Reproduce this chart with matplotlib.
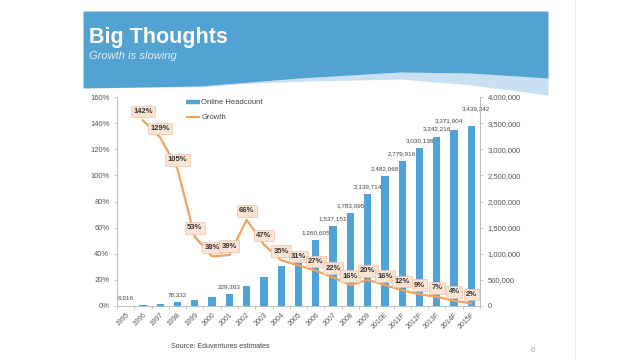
import matplotlib
matplotlib.use('Agg')
import matplotlib.pyplot as plt
import numpy as np
from matplotlib.lines import Line2D
from matplotlib.ticker import FuncFormatter, MultipleLocator

plt.rcParams['font.family'] = ['Liberation Sans', 'DejaVu Sans']

# ---------------- data ----------------
years = ['1995', '1996', '1997', '1998', '1999', '2000', '2001', '2002', '2003',
         '2004', '2005', '2006', '2007', '2008', '2009', '2010E', '2011F',
         '2012F', '2013F', '2014F', '2015F']
headcount = [6916, 17000, 38000, 78332, 120000, 165000, 229363, 385000, 560000,
             760000, 990000, 1260605, 1537151, 1783095, 2139714, 2482068,
             2779916, 3030138, 3242216, 3371904, 3439342]
headcount_labelled = ['1995', '1998', '2001', '2006', '2007', '2008', '2009',
                      '2010E', '2011F', '2012F', '2013F', '2014F', '2015F']
growth_years = years[1:]
growth = [142, 129, 105, 53, 38, 39, 66, 47, 35, 31, 27, 22, 16, 20, 16, 12,
          9, 7, 4, 2]
left_ticks = [0, 20, 40, 60, 80, 100, 120, 140, 160]
right_ticks = [0, 500000, 1000000, 1500000, 2000000, 2500000, 3000000,
               3500000, 4000000]

title = 'Big Thoughts'
subtitle = 'Growth is slowing'
source = 'Source: Eduventures estimates'
page = '6'

BLUE = '#4FA3D6'
ORANGE = '#F2A15E'
W, H = 638, 359

fig = plt.figure(figsize=(W / 100, H / 100), dpi=100)
fig.patch.set_facecolor('white')

# ---------------- slide decoration (pixel coordinates) ----------------
bg = fig.add_axes([0, 0, 1, 1], zorder=-10)
bg.set_xlim(0, W)
bg.set_ylim(H, 0)
bg.axis('off')
xs = np.linspace(83, 548, 200)
kx = [83, 200, 300, 400, 470, 548]
ky = [88, 86, 78, 72, 73, 78]
yb = np.interp(xs, kx, ky)
thick = np.interp(xs, [83, 240, 400, 548], [0, 1, 7, 17])
yl = yb + thick
bg.fill_between(xs, yb, yl, color='#C9E0F2', lw=0)
bg.fill_between(xs, 11, yb, color='#52A2D3', lw=0)
bg.plot([575, 575], [0, H], color='#EEEEEE', lw=0.8)

fig.text(89 / W, 1 - 43 / H, title, fontsize=15.5, fontweight='bold',
         color='white', va='baseline', ha='left')
fig.text(89 / W, 1 - 59 / H, subtitle, fontsize=8, style='italic',
         color='#E6F0F8', va='baseline', ha='left')
fig.text(220 / W, 1 - 346 / H, source, fontsize=5, color='#444444',
         ha='center', va='center')
fig.text(533 / W, 1 - 350 / H, page, fontsize=6, color='#AAAAAA',
         ha='center', va='center')

# ---------------- chart ----------------
L, R, T, B = 117, 480, 97, 306
ax2 = fig.add_axes([L / W, 1 - B / H, (R - L) / W, (B - T) / H])
ax = ax2.twinx()
ax.yaxis.tick_left()
ax.yaxis.set_label_position('left')
ax2.yaxis.tick_right()
ax.set_zorder(ax2.get_zorder() + 1)
ax.patch.set_visible(False)

x = np.arange(len(years))
ax2.bar(x, headcount, width=0.42, color=BLUE, zorder=2)
ax2.set_ylim(0, 4000000)
ax2.set_yticks(right_ticks)
ax2.yaxis.set_major_formatter(FuncFormatter(lambda v, p: f'{int(v):,}'))
ax2.set_xlim(-0.5, len(years) - 0.5)
ax2.set_xticks(x)
ax2.set_xticklabels(years, rotation=45, ha='right', va='top',
                    rotation_mode='anchor', fontsize=5, color='#555555')
ax2.xaxis.set_minor_locator(MultipleLocator(1, offset=0.5))
ax2.tick_params(axis='x', which='major', length=0, pad=4)
ax2.tick_params(axis='x', which='minor', length=2.5, color='#BFBFBF', width=0.6)
ax2.tick_params(axis='y', which='major', labelsize=5.5, labelcolor='#555555',
                length=2.5, color='#BFBFBF', width=0.6, pad=3)

label_offsets = {'2014F': (-4, 4.5), '2015F': (3, 11)}
for yr, v in zip(years, headcount):
    if yr in headcount_labelled:
        off = label_offsets.get(yr, (0, 3.5))
        ax2.annotate(f'{v:,}', (years.index(yr), v), xytext=off,
                     textcoords='offset points', ha='center', va='bottom',
                     fontsize=4.6, color='#444444')

gx = [years.index(y) for y in growth_years]
ax.plot(gx, growth, color=ORANGE, lw=1.6, solid_joinstyle='round', zorder=3)
ax.set_ylim(0, 160)
ax.set_yticks(left_ticks)
ax.yaxis.set_major_formatter(FuncFormatter(lambda v, p: f'{int(v)}%'))
ax.tick_params(axis='y', labelsize=5.5, labelcolor='#555555', length=2.5,
               color='#BFBFBF', width=0.6, pad=3)
for gxi, g in zip(gx, growth):
    ax.annotate(f'{g}%', (gxi, g), xytext=(0, 6.5), textcoords='offset points',
                ha='center', va='center', fontsize=5.5, fontweight='bold',
                color='#333333', zorder=5,
                bbox=dict(boxstyle='square,pad=0.3', fc='#FCE4D4',
                          ec='#F3C2A0', lw=0.5))

for a in (ax, ax2):
    a.spines['top'].set_visible(False)
    for s in ('left', 'right', 'bottom'):
        a.spines[s].set_color('#BFBFBF')
        a.spines[s].set_linewidth(0.7)

handles = [Line2D([], [], color=BLUE, lw=3.2, solid_capstyle='butt'),
           Line2D([], [], color=ORANGE, lw=1.5, solid_capstyle='butt')]
fig.legend(handles, ['Online Headcount', 'Growth'], loc='upper left',
           bbox_to_anchor=(186 / W, 1 - 99 / H), frameon=False, fontsize=5.5,
           handlelength=1.8, handletextpad=0.2, labelspacing=1.0,
           borderpad=0, borderaxespad=0, labelcolor='#444444')

fig.savefig('out.png', dpi=100, facecolor='white')
